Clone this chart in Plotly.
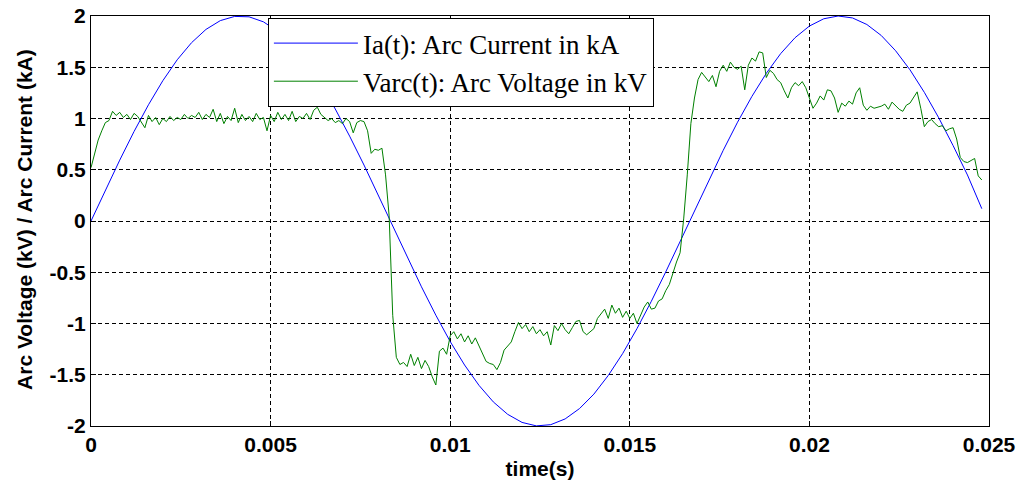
import plotly.graph_objects as go

# Arc current Ia(t) in kA, sampled every 0.0004 s from t = 0
current_t0 = 0.0
current_dt = 0.0004
current_ka = [0.000, 0.300, 0.594, 0.874, 1.134, 1.369, 1.573, 1.740, 1.869, 1.955,
              1.996, 1.992, 1.943, 1.850, 1.715, 1.541, 1.332, 1.093, 0.828, 0.546,
              0.251, -0.050, -0.350, -0.642, -0.919, -1.176, -1.405, -1.603, -1.765, -1.886,
              -1.965, -1.999, -1.987, -1.931, -1.830, -1.689, -1.507, -1.294, -1.050, -0.783,
              -0.497, -0.201, 0.100, 0.399, 0.689, 0.964, 1.216, 1.441, 1.633, 1.788,
              1.902, 1.973, 2.000, 1.981, 1.917, 1.810, 1.661, 1.475, 1.255, 1.007,
              0.736, 0.449, 0.120]

# Arc voltage Varc(t) in kV, sampled every 0.0001 s from t = 0
voltage_t0 = 0.0
voltage_dt = 0.0001
voltage_kv = [0.52, 0.66, 0.79, 0.88, 0.96, 0.98, 1.07, 1.03, 1.06, 1.01,
              1.04, 0.99, 1.05, 1.02, 0.96, 0.91, 1.03, 0.97, 1.01, 0.94,
              1.00, 0.97, 1.02, 0.98, 1.01, 0.99, 1.04, 1.00, 1.03, 1.01,
              1.06, 0.99, 1.04, 1.01, 1.09, 0.97, 1.05, 0.95, 1.02, 0.98,
              1.10, 0.96, 1.04, 0.98, 1.02, 0.97, 1.05, 0.99, 1.01, 0.88,
              1.03, 0.97, 1.06, 0.99, 1.04, 0.98, 1.07, 0.97, 1.02, 1.00,
              1.05, 0.99, 1.08, 1.11, 1.04, 1.01, 0.98, 1.00, 0.96, 0.98,
              0.95, 1.00, 0.97, 0.86, 0.96, 0.98, 0.97, 0.88, 0.66, 0.70,
              0.69, 0.71, 0.45, 0.05, -0.92, -1.33, -1.40, -1.38, -1.42, -1.30,
              -1.41, -1.33, -1.44, -1.36, -1.42, -1.52, -1.60, -1.27, -1.24, -1.30,
              -1.12, -1.08, -1.15, -1.10, -1.18, -1.12, -1.20, -1.14, -1.22, -1.30,
              -1.37, -1.39, -1.40, -1.45, -1.38, -1.26, -1.22, -1.18, -1.08, -0.99,
              -1.05, -1.01, -1.08, -1.03, -1.10, -1.06, -1.12, -1.08, -1.21, -1.02,
              -1.07, -1.00, -1.06, -1.10, -1.04, -0.98, -0.97, -1.08, -1.11, -1.08,
              -1.05, -0.95, -0.90, -0.86, -0.95, -0.82, -0.90, -0.85, -0.94, -0.88,
              -0.95, -0.90, -1.00, -0.92, -0.84, -0.79, -0.86, -0.85, -0.78, -0.76,
              -0.68, -0.62, -0.50, -0.40, -0.31, 0.02, 0.45, 0.95, 1.20, 1.38,
              1.45, 1.40, 1.36, 1.42, 1.31, 1.46, 1.52, 1.46, 1.55, 1.50,
              1.48, 1.51, 1.28, 1.52, 1.59, 1.56, 1.65, 1.64, 1.40, 1.47,
              1.44, 1.38, 1.35, 1.27, 1.20, 1.30, 1.35, 1.32, 1.36, 1.30,
              1.21, 1.10, 1.15, 1.22, 1.18, 1.28, 1.27, 1.20, 1.06, 1.15,
              1.12, 1.17, 1.14, 1.25, 1.30, 1.13, 1.08, 1.12, 1.10, 1.11,
              1.12, 1.14, 1.09, 1.16, 1.12, 1.09, 1.07, 1.13, 1.15, 1.20,
              1.26, 1.10, 0.92, 0.97, 0.99, 0.95, 0.92, 0.93, 0.88, 0.90,
              0.91, 0.80, 0.62, 0.58, 0.57, 0.59, 0.61, 0.44, 0.40]

x_tickvals = [0, 0.005, 0.01, 0.015, 0.02, 0.025]
x_ticktext = ["0", "0.005", "0.01", "0.015", "0.02", "0.025"]
y_tickvals = [-2, -1.5, -1, -0.5, 0, 0.5, 1, 1.5, 2]
y_ticktext = ["-2", "-1.5", "-1", "-0.5", "0", "0.5", "1", "1.5", "2"]
y_title = "Arc Voltage (kV) / Arc Current (kA)"

fig = go.Figure()
fig.add_trace(go.Scatter(
    y=current_ka, x0=current_t0, dx=current_dt, mode="lines",
    line=dict(color="#0000FF", width=1),
    name="Ia(t): Arc Current in kA"))
fig.add_trace(go.Scatter(
    y=voltage_kv, x0=voltage_t0, dx=voltage_dt, mode="lines",
    line=dict(color="#008000", width=1),
    name="Varc(t): Arc Voltage in kV"))

tick_font = dict(family="Liberation Sans, Arial, sans-serif", size=21, color="black", weight="bold")
title_font = dict(family="Liberation Sans, Arial, sans-serif", size=21, color="black", weight="bold")

axis_common = dict(
    showline=True, linecolor="black", linewidth=1, mirror="allticks",
    ticks="inside", ticklen=5, tickcolor="black",
    showgrid=True, gridcolor="black", gridwidth=1, griddash="4px,3px",
    zeroline=False, tickfont=tick_font, automargin=False,
)

fig.update_xaxes(range=[0, 0.025], tickmode="array", tickvals=x_tickvals, ticktext=x_ticktext,
                 title=dict(text="time(s)", font=title_font, standoff=6), **axis_common)
fig.update_yaxes(range=[-2, 2], tickmode="array", tickvals=y_tickvals, ticktext=y_ticktext,
                 **axis_common)

fig.add_annotation(
    text=y_title, textangle=-90, font=title_font,
    xref="paper", yref="paper", x=-0.0735, y=0.505,
    xanchor="center", yanchor="middle", showarrow=False,
)

fig.update_layout(
    width=1017, height=488,
    margin=dict(l=91, r=28, t=16, b=62),
    paper_bgcolor="white", plot_bgcolor="white",
    showlegend=True,
    legend=dict(
        x=0.197, y=0.995, xanchor="left", yanchor="top",
        bgcolor="white", bordercolor="black", borderwidth=1,
        font=dict(family="Liberation Serif, Times New Roman, serif", size=27, color="black"),
        itemwidth=84,
    ),
)

fig.write_html("out.html")
